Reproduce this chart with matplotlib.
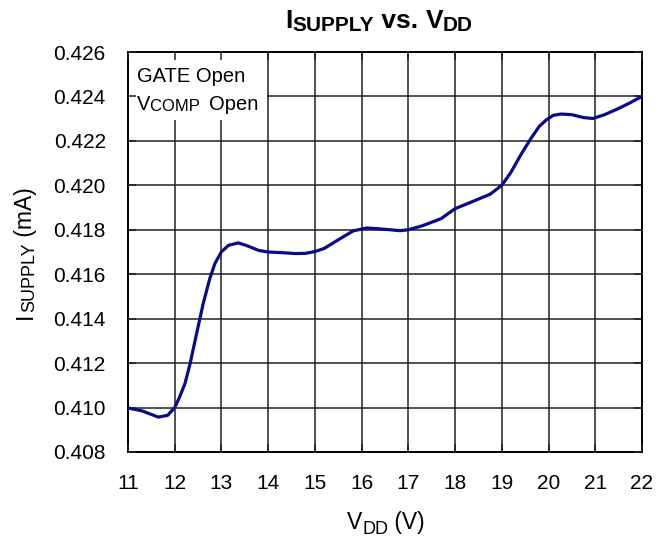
import matplotlib
matplotlib.use("Agg")
import matplotlib.pyplot as plt
from matplotlib.patches import Rectangle

plt.rcParams['font.family'] = ['Liberation Sans', 'DejaVu Sans']

vdd = [11.0, 11.3, 11.65, 11.85, 12.0, 12.1, 12.22, 12.33, 12.45, 12.61, 12.75, 12.86, 13.0,
       13.15, 13.36, 13.55, 13.8, 14.0, 14.3, 14.58, 14.8, 15.0, 15.2, 15.5, 15.82, 16.11,
       16.4, 16.82, 17.0, 17.3, 17.7, 18.0, 18.35, 18.75, 19.0, 19.2, 19.4, 19.62, 19.8,
       19.95, 20.1, 20.27, 20.5, 20.75, 20.95, 21.2, 21.5, 21.75, 22.0]
isupply = [0.40998, 0.40985, 0.40957, 0.40965, 0.4100, 0.41045, 0.41108, 0.41198, 0.41315,
           0.41468, 0.41580, 0.41648, 0.41701, 0.41730, 0.41741, 0.41728, 0.41707, 0.41700,
           0.41697, 0.41693, 0.41694, 0.41702, 0.41716, 0.41755, 0.41795, 0.41808, 0.41804,
           0.41796, 0.41800, 0.41818, 0.41850, 0.41895, 0.41925, 0.41960, 0.42000, 0.42060,
           0.42135, 0.42210, 0.42265, 0.42294, 0.42315, 0.42321, 0.42318, 0.42305, 0.42301,
           0.42318, 0.42346, 0.42372, 0.42400]

xticks = list(range(11, 23))
yticks = [0.408, 0.410, 0.412, 0.414, 0.416, 0.418, 0.420, 0.422, 0.424, 0.426]

# composite texts: (text, is_subscript)
title_parts = [("I", False), ("SUPPLY", True), (" vs. ", False), ("V", False), ("DD", True)]
xlabel_parts = [("V", False), ("DD", True), (" (V)", False)]
ylabel_parts = [("I", False), ("SUPPLY", True), (" (mA)", False)]
note_line1 = [("GATE Open", False)]
note_line2 = [("V", False), ("COMP  ", True), ("Open", False)]

W, H = 669, 538
fig = plt.figure(figsize=(W / 100, H / 100), dpi=100)
ax = fig.add_axes([0.1913, 0.1599, 0.7683, 0.7434])

for xv in xticks:
    ax.axvline(xv, color='#222222', lw=1.1, zorder=0.5)
for yv in yticks:
    ax.axhline(yv, color='#222222', lw=1.1, zorder=0.5)

ax.plot(vdd, isupply, color='#0a0a8c', lw=2.3, solid_capstyle='round',
        solid_joinstyle='round', zorder=3)

ax.set_xlim(11, 22)
ax.set_ylim(0.408, 0.426)
ax.set_xticks(xticks)
ax.set_yticks(yticks)
ax.set_xticklabels([str(t) for t in xticks])
ax.set_yticklabels([f"{t:.3f}" for t in yticks])
ax.tick_params(direction='in', length=6, width=1.1, labelsize=15, pad=16,
               top=True, right=True, color='#222222')
for s in ax.spines.values():
    s.set_color('black')
    s.set_linewidth(1.4)
ax.set_axisbelow(False)

ax.add_patch(Rectangle((0.0, 0.83), 0.27, 0.17, transform=ax.transAxes,
                       facecolor='white', edgecolor='none', zorder=0.7))

renderer = fig.canvas.get_renderer()


def text_width(s, size, weight):
    # width including spaces: measure with sentinels
    t = fig.text(0, 0, "|" + s + "|", fontsize=size, fontweight=weight)
    w = t.get_window_extent(renderer).width
    t.remove()
    t = fig.text(0, 0, "||", fontsize=size, fontweight=weight)
    w0 = t.get_window_extent(renderer).width
    t.remove()
    return w - w0


def draw_parts(parts, main, sub, drop, weight, pos, align='center', rotation=0):
    """pos: (x_px, y_px) from top-left; for horizontal text y is the baseline."""
    widths = [text_width(s, sub if is_sub else main, weight) for s, is_sub in parts]
    total = sum(widths)
    x0, y0 = pos
    if rotation == 0:
        cur = x0 - total / 2 if align == 'center' else x0
        for (s, is_sub), w in zip(parts, widths):
            yb = y0 + (drop if is_sub else 0)
            fig.text(cur / W, 1 - yb / H, s, fontsize=sub if is_sub else main,
                     fontweight=weight, ha='left', va='baseline', zorder=5)
            cur += w
    else:
        cur = (H - y0) - total / 2
        for (s, is_sub), w in zip(parts, widths):
            xb = x0 + (drop if is_sub else 0)
            fig.text(xb / W, cur / H, s, fontsize=sub if is_sub else main,
                     fontweight=weight, ha='left', va='baseline', rotation=90,
                     rotation_mode='anchor', zorder=5)
            cur += w


draw_parts(title_parts, 19, 15, 3.5, 'bold', (379, 27.5))
draw_parts(xlabel_parts, 16.5, 13, 5.5, 'normal', (386, 529))
draw_parts(ylabel_parts, 16.5, 13, 2.5, 'normal', (32, 253), rotation=90)
draw_parts(note_line1, 14.5, 12, 1, 'normal', (137, 82), align='left')
draw_parts(note_line2, 14.5, 12, 1, 'normal', (137, 110), align='left')

fig.savefig('out.png', dpi=100)
